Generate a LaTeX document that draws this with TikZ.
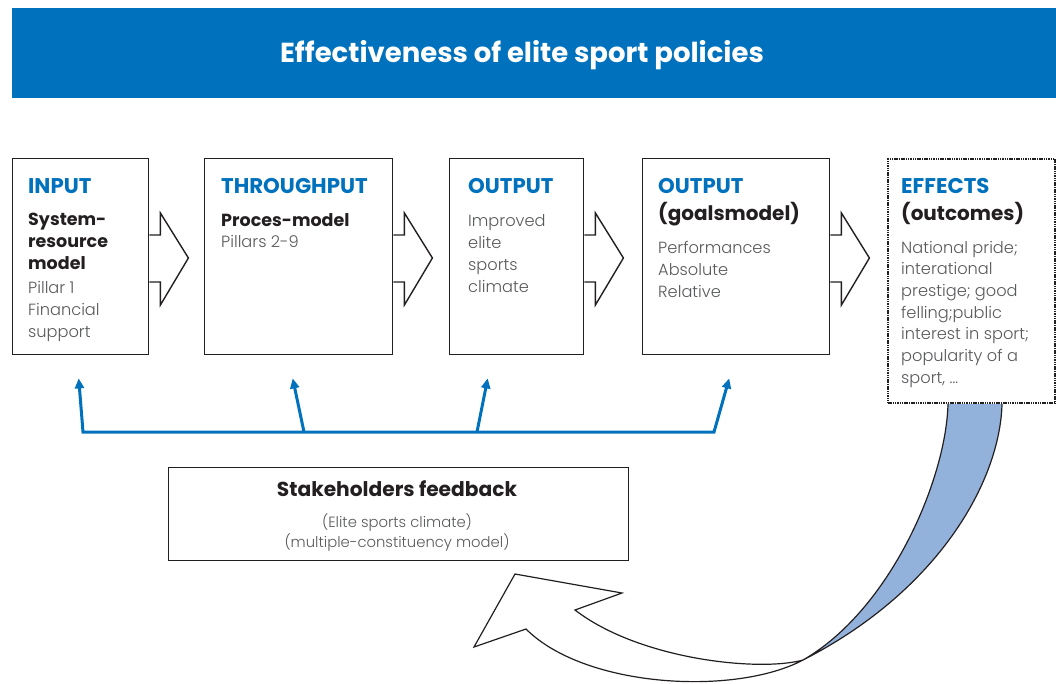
\documentclass[tikz,border=0pt]{standalone}
\usepackage{fontspec}
\setmainfont{Poppins}
\newfontfamily\lightfont{Poppins Light}
\usetikzlibrary{arrows.meta,calc}
\definecolor{titleblue}{RGB}{0,113,188}
\definecolor{ribbonblue}{RGB}{146,178,220}
\definecolor{bodygray}{RGB}{88,89,91}
\definecolor{ink}{RGB}{35,31,32}
\tikzset{
  box/.style={draw=ink, line width=1.4pt, inner sep=0pt, minimum height=196pt, anchor=north west},
  head/.style={anchor=base west, inner sep=0pt, text=titleblue, font=\bfseries\fontsize{21.3}{22}\selectfont},
  sub/.style={anchor=base west, inner sep=0pt, text=ink, font=\bfseries\fontsize{17.5}{22}\selectfont},
  subbig/.style={anchor=base west, inner sep=0pt, text=ink, font=\bfseries\fontsize{20}{22}\selectfont},
  body/.style={anchor=base west, inner sep=0pt, text=bodygray, font=\lightfont\fontsize{16.2}{22}\selectfont},
  blockarrow/.style={draw=ink, line width=1.4pt, line join=miter},
  fbline/.style={draw=titleblue, line width=3pt},
  fbtip/.style={-{Triangle[length=10pt,width=9pt]}},
  ribbon/.style={draw=ink, line width=1.2pt, line join=miter},
}
\begin{document}
\begin{tikzpicture}[x=1pt,y=-1pt]
\useasboundingbox (0,0) rectangle (1056,683);

% title band
\node[fill=titleblue, inner sep=0pt, minimum width=1044pt, minimum height=90pt, anchor=north west] (band) at (12,8) {};
\node[text=white, inner sep=0pt, font=\bfseries\fontsize{27.5}{30}\selectfont] (title) at (522,55) {Effectiveness of elite sport policies};

% boxes
\node[box, minimum width=136pt] (b1) at (12,158) {};
\node[box, minimum width=188pt] (b2) at (204,158) {};
\node[box, minimum width=134pt] (b3) at (449,158) {};
\node[box, minimum width=187pt] (b4) at (642,158) {};
\node[draw=ink, line width=2pt, dash pattern=on 1.5pt off 0.8pt, inner sep=0pt,
      minimum width=167pt, minimum height=244pt, anchor=north west] (b5) at (887,158) {};

% block arrows between boxes
\foreach \a in {b1,b2,b3,b4}{
  \draw[blockarrow] ($(\a.north east)+(0,77)$) -- ++(11,0) -- ++(0,-22) -- ++(28,45)
    -- ++(-28,47) -- ++(0,-23) -- ++(-11,0);
}

% box 1 texts
\node[head] (h1) at (28,193) {INPUT};
\node[sub] (s1a) at (28,225) {System-};
\node[sub] (s1b) at (28,247) {resource};
\node[sub] (s1c) at (28,269) {model};
\node[body] (t1a) at (28,293) {Pillar 1};
\node[body] (t1b) at (28,315) {Financial};
\node[body] (t1c) at (28,337) {support};

% box 2 texts
\node[head] (h2) at (221,193) {THROUGHPUT};
\node[sub] (s2a) at (221,226) {Proces-model};
\node[body] (t2a) at (221,247) {Pillars 2-9};

% box 3 texts
\node[head] (h3) at (468,193) {OUTPUT};
\foreach \t [count=\i from 0] in {Improved, elite, sports, climate}
  \node[body] (t3-\i) at (468,226+22*\i) {\t};

% box 4 texts
\node[head] (h4) at (658,193) {OUTPUT};
\node[subbig] (s4a) at (658,220) {(goalsmodel)};
\foreach \t [count=\i from 0] in {Performances, Absolute, Relative}
  \node[body] (t4-\i) at (658,253+22.3*\i) {\t};

% box 5 texts
\node[head] (h5) at (901,193) {EFFECTS};
\node[subbig] (s5a) at (901,220) {(outcomes)};
\foreach \t [count=\i from 0] in {National pride;, interational, {prestige; good}, felling;public, interest in sport;, popularity of a, {sport, …}}
  \node[body] (t5-\i) at (901,253+21.7*\i) {\t};

% feedback lines
\coordinate (fbL) at (83,432);
\coordinate (fbM1) at (304,432);
\coordinate (fbM2) at (477,432);
\coordinate (fbR) at (714,432);
\draw[fbline, {Triangle[length=10pt,width=9pt]}-{Triangle[length=10pt,width=9pt]}]
  ($(b1.south)+(-2,23)$) -- (fbL) -- (fbR) -- ($(b4.south)+(-7,23)$);
\draw[fbline, fbtip] (fbM1) -- ($(b2.south)+(-6,23)$);
\draw[fbline, fbtip] (fbM2) -- ($(b3.south)+(-29,23)$);

% stakeholders box
\node[draw=ink, line width=1.3pt, inner sep=0pt, minimum width=460pt, minimum height=93pt, anchor=north west] (fbk) at (168,467) {};
\node[anchor=base, inner sep=0pt, text=ink, font=\bfseries\fontsize{20.2}{22}\selectfont] (fbk1) at (397,496) {Stakeholders feedback};
\node[anchor=base, inner sep=0pt, text=bodygray, font=\lightfont\fontsize{14.8}{16}\selectfont] (fbk2) at (397,527) {(Elite sports climate)};
\node[anchor=base, inner sep=0pt, text=bodygray, font=\lightfont\fontsize{14.8}{16}\selectfont] (fbk3) at (397,547) {(multiple-constituency model)};

% curved ribbon arrow
\coordinate (twist) at (803,660);
\draw[ribbon, fill=white] (twist) .. controls (760,672) and (640,660) .. (575,610)
  -- (622,593) -- (515,574) -- (474,647) -- (526,629)
  .. controls (585,688) and (735,696) .. (twist);
\draw[ribbon, fill=ribbonblue] ($(b5.south west)+(61,0)$) .. controls (946,480) and (890,610) .. (twist)
  .. controls (940,590) and (1000,480) .. ($(b5.south west)+(115,0)$);
\end{tikzpicture}
\end{document}
